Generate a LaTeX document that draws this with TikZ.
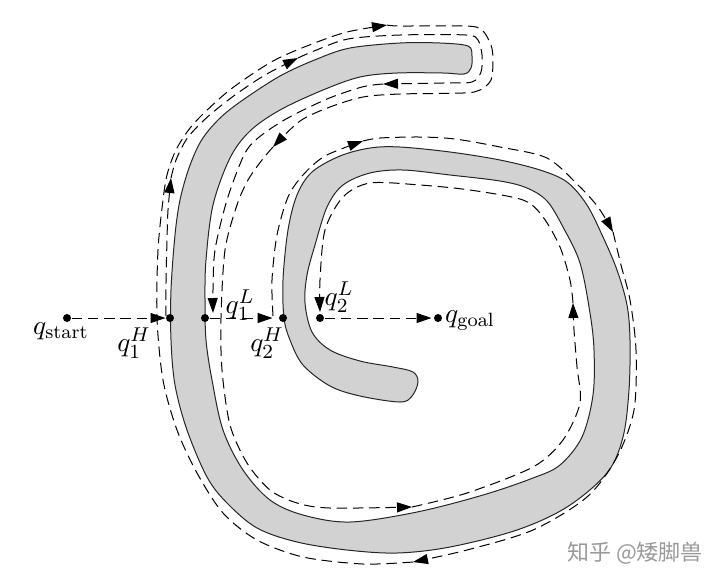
\documentclass[tikz,border=0pt]{standalone}
\usepackage{amsmath}
\usepackage{fontspec}
\newfontfamily\cjkfont{Noto Sans CJK SC}
\definecolor{obstgray}{RGB}{210,210,210}
\usetikzlibrary{arrows.meta}

\begin{document}
\begin{tikzpicture}[x=0.4pt, y=-0.4pt,
  dot/.style={circle, fill=black, inner sep=0pt, minimum size=3.2pt},
  obst/.style={fill=obstgray, draw=black!85, line width=0.4pt},
  trail/.style={dashed, dash pattern=on 4.2pt off 2.3pt, line width=0.4pt},
  arrow/.style={-{Triangle[length=6pt, width=4pt]}},
  lbl/.style={inner sep=0pt, font=\fontsize{11}{12}\selectfont}
]
\useasboundingbox (0,0) rectangle (720,582);

% spiral obstacle
\draw[obst] plot[smooth cycle, tension=0.55] coordinates {
  (468,46) (440,43) (400,43) (350,48) (317,59) (280,76) (240,102) (218,120)
  (201,141) (189,168) (180,200) (175,235) (171,290) (171,340) (175,385) (187,430)
  (207,477) (227,503) (257,528) (297,542) (347,550) (397,553) (450,547)
  (517,530) (567,507) (607,473) (623,437) (629,390) (630,340) (627,305)
  (617,270) (603,237) (587,205) (567,182) (540,170) (500,160) (450,152)
  (400,147) (370,148) (340,156) (312,172) (297,195) (288,230) (283,280)
  (284,318) (290,340) (303,365) (330,386) (360,396) (400,402) (412,396)
  (418,382) (413,372) (393,367) (360,361) (330,350) (312,332) (305,303)
  (307,275) (315,245) (327,207) (343,185) (370,173) (403,170) (450,175)
  (500,181) (527,188) (547,201) (563,227) (580,263) (590,313) (594,350)
  (593,395) (582,437) (560,465) (533,478) (483,495) (417,512) (350,522)
  (303,515) (270,500) (243,470) (223,430) (212,380) (206,340) (205,300)
  (206,260) (213,205) (230,158) (250,131) (280,110) (323,90) (360,77)
  (397,73) (443,73) (464,74) (471,68) (472,56)};

% dots on the m-line
\node[dot] (qs) at (67,318) {};
\node[dot] (q1H) at (170,318) {};
\node[dot] (q1L) at (205,318) {};
\node[dot] (q2H) at (283,318) {};
\node[dot] (q2L) at (320,318) {};
\node[dot] (qg) at (438,318) {};

% m-line pieces
\draw[trail, arrow] (qs) -- (q1H);
\draw[trail, arrow, shorten >=2.4pt] (q1L) -- (q2H);
\draw[trail, arrow, shorten >=0.8pt] (q2L) -- (qg);

% first hit: around the outer arm
\draw[trail, arrow] plot[smooth] coordinates {(166,316) (166,283) (167,240) (168,210) (171,178)};
\draw[trail, arrow] plot[smooth] coordinates {(171,178) (176,160) (186,140) (198,126) (212,113) (235,95) (265,75) (298,58)};
\draw[trail, arrow] plot[smooth] coordinates {(298,58) (314,51) (348,39) (400,35) (466,35) (478,40) (482,55) (481,72) (472,82) (443,83) (383,84)};
\draw[trail, arrow] plot[smooth] coordinates {(383,84) (362,87) (327,99) (286,119) (258,138) (244,155) (227,200) (215,250) (213,290) (213,313)};

% second hit: all the way round
\draw[trail, arrow] plot[smooth] coordinates {(273,316) (272,280) (277,235) (288,197) (303,175) (325,156) (363,141)};
\draw[trail, arrow] plot[smooth] coordinates {(363,141) (380,138) (420,137) (455,139) (500,147) (547,158) (578,185) (598,207) (613,232)};
\draw[trail, arrow] plot[smooth] coordinates {(613,232) (621,265) (630,300) (636,350) (634,410) (617,457) (587,497) (533,530) (467,550) (413,562)};
\draw[trail, arrow] plot[smooth] coordinates {(413,562) (363,564) (303,557) (257,540) (223,513) (197,473) (177,430) (163,380) (157,318) (158,250) (163,200) (167,175) (175,152) (187,132) (202,115) (231,89) (273,61) (312,44) (347,32) (387,25)};
\draw[trail, arrow] plot[smooth] coordinates {(387,25) (400,26) (466,26) (482,30) (491,45) (493,60) (491,80) (480,90) (463,93) (400,94) (363,97) (330,107) (300,121) (273,147)};
\draw[trail, arrow] plot[smooth] coordinates {(273,147) (262,160) (248,180) (237,205) (225,250) (221,318) (222,370) (230,425) (247,463) (270,490) (297,503) (330,508) (412,507)};
\draw[trail, arrow] plot[smooth] coordinates {(412,507) (467,493) (533,467) (563,440) (580,403) (577,367) (574,330) (573,303)};
\draw[trail, arrow] plot[smooth] coordinates {(573,303) (570,280) (560,247) (543,217) (523,200) (470,190) (420,185) (370,183) (343,197) (325,230) (320,280) (320,312)};

% labels
\node[lbl] (lstart) at (61,331) {$q_{\mathrm{start}}$};
\node[lbl] (l1H) at (134,343) {$q_1^H$};
\node[lbl] (l1L) at (240,305) {$q_1^L$};
\node[lbl] (l2H) at (267,343) {$q_2^H$};
\node[lbl] (l2L) at (339,297) {$q_2^L$};
\node[lbl] (lgoal) at (470,321) {$q_{\mathrm{goal}}$};

\node[inner sep=0pt, text=black!40, font=\cjkfont\fontsize{8.8}{10}\selectfont] (mark) at (635,553) {知乎 @矮脚兽};
\end{tikzpicture}
\end{document}
